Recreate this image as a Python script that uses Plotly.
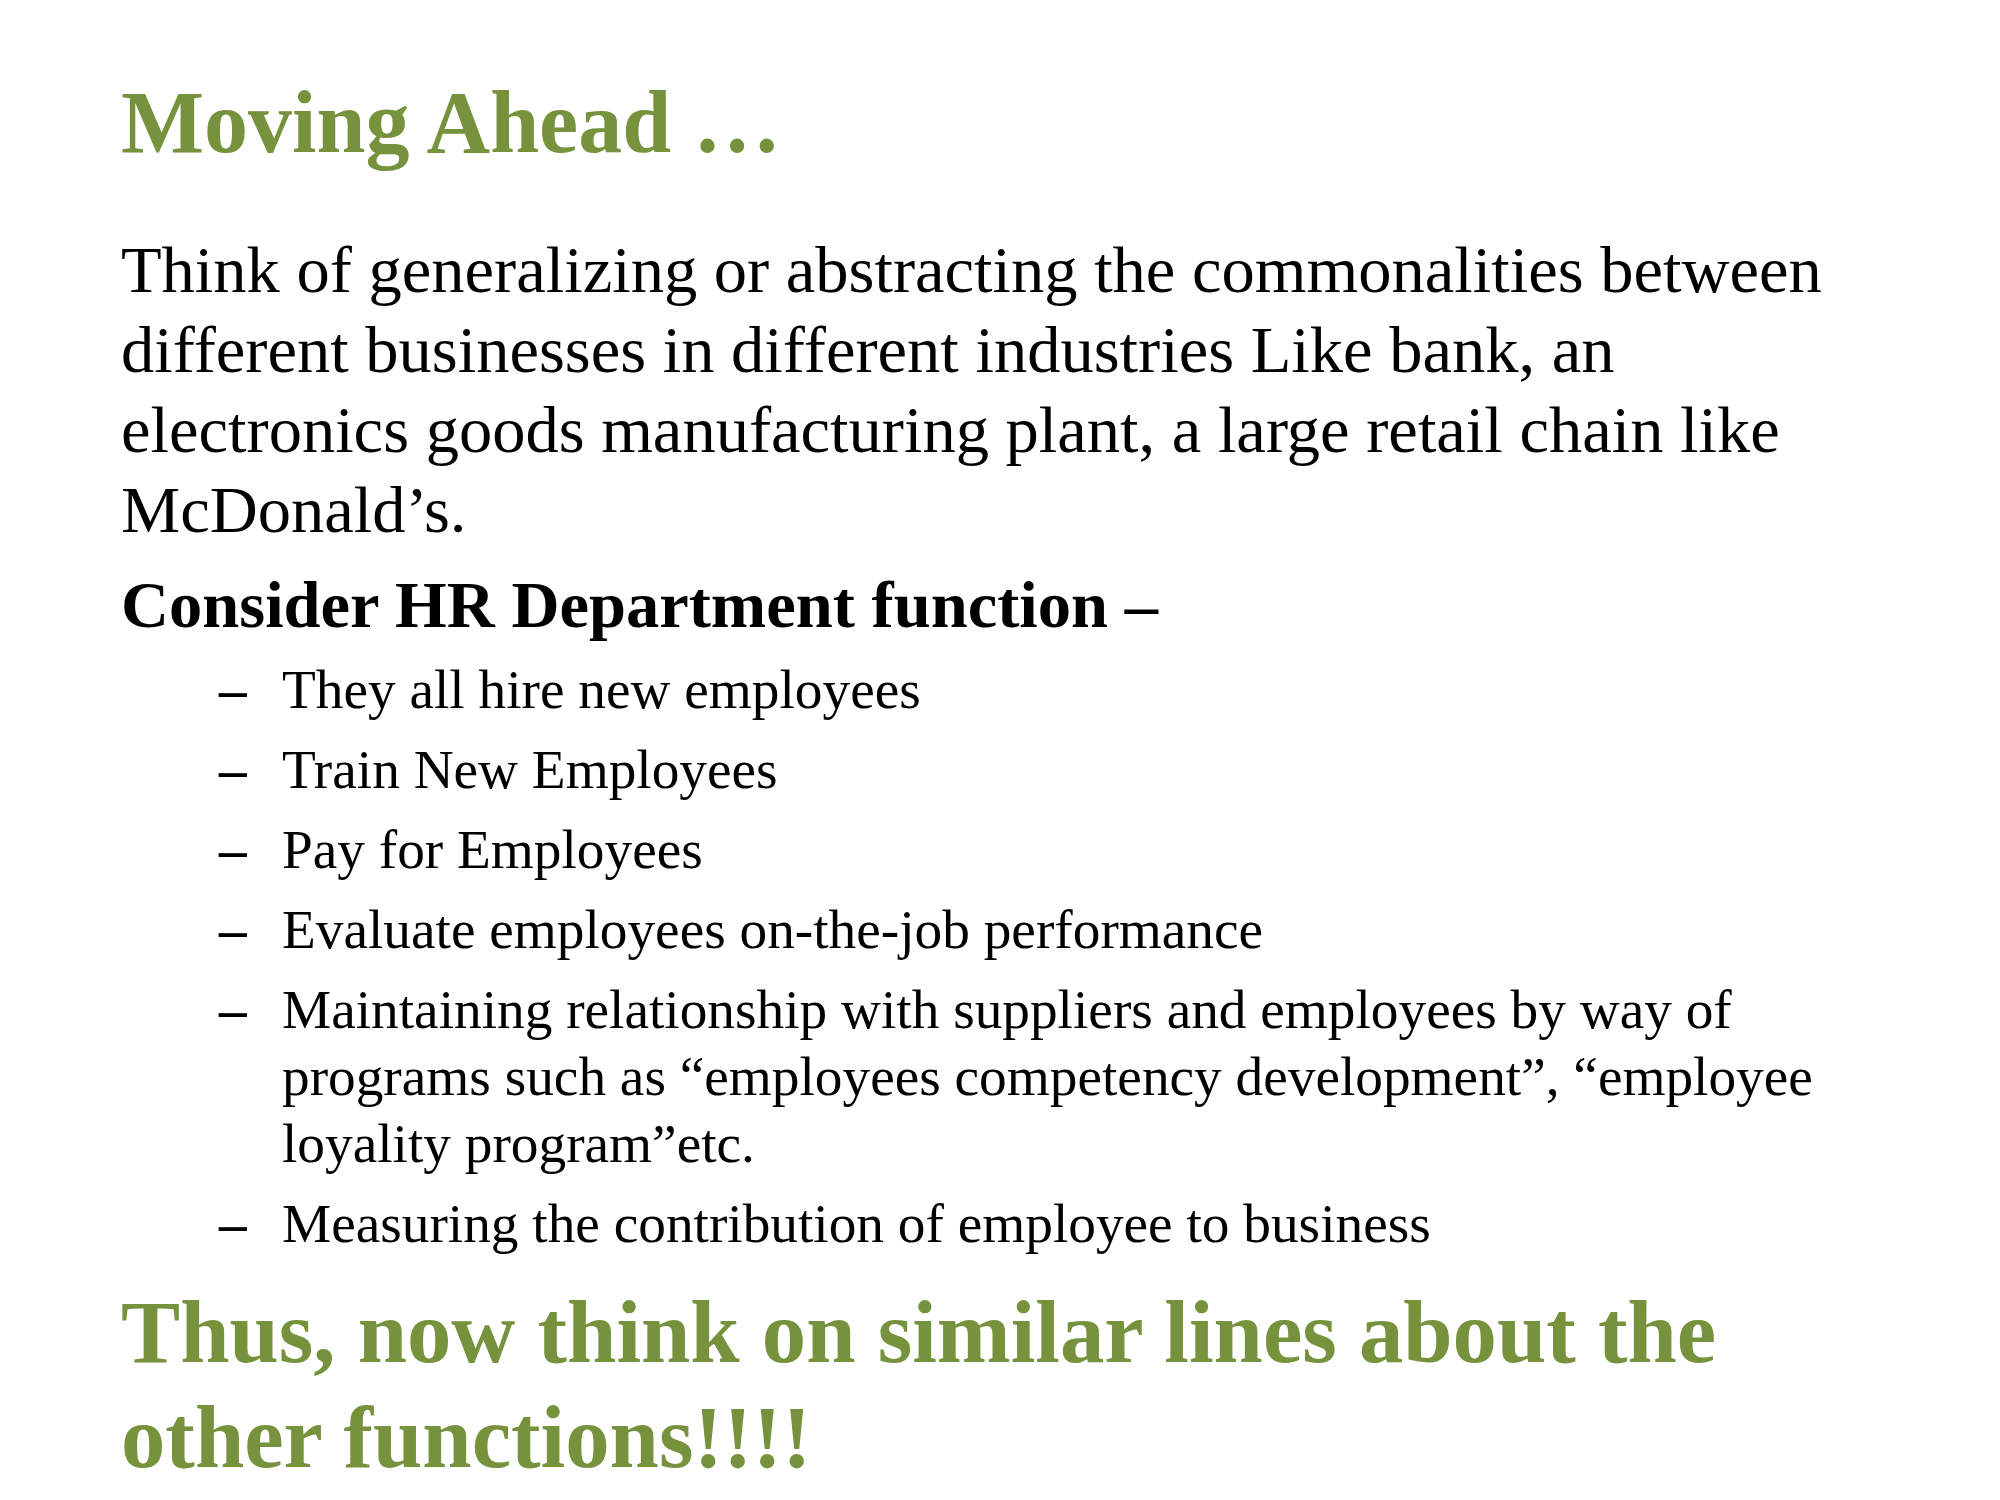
import plotly.graph_objects as go

# slide text, line by line
title = "Moving Ahead …"
intro_lines = [
    "Think of generalizing or abstracting the commonalities between",
    "different businesses in different industries Like bank, an",
    "electronics goods manufacturing plant, a large retail chain like",
    "McDonald’s.",
]
heading = "Consider HR Department function –"
bullets = [
    ["They all hire new employees"],
    ["Train New Employees"],
    ["Pay for Employees"],
    ["Evaluate employees on-the-job performance"],
    [
        "Maintaining relationship with suppliers and employees by way of",
        "programs such as “employees competency development”, “employee",
        "loyality program”etc.",
    ],
    ["Measuring the contribution of employee to business"],
]
closing_lines = [
    "Thus, now think on similar lines about the",
    "other functions!!!!",
]

GREEN = "#76923C"
FONT = "Liberation Serif"

fig = go.Figure()


def add_line(text, x, baseline, size, color="black", bold=False):
    # place the annotation so that its text baseline lands on `baseline`
    if bold:
        text = f"<b>{text}</b>"
    fig.add_annotation(
        x=x - 11, y=baseline - 0.34 * size - 9,
        xref="x", yref="y",
        text=text, showarrow=False,
        xanchor="left", yanchor="middle",
        font=dict(family=FONT, size=size, color=color),
    )


LEFT = 122
add_line(title, LEFT, 153, 88, GREEN, bold=True)

y = 293
for line in intro_lines:
    add_line(line, LEFT, y, 66.5)
    y += 80

add_line(heading, LEFT, 628, 66.5, bold=True)

y = 709
for item in bullets:
    add_line("–", 219, y, 55.3, bold=True)
    for j, line in enumerate(item):
        add_line(line, 283, y, 55.3)
        if j < len(item) - 1:
            y += 67
    y += 80

add_line(closing_lines[0], LEFT, 1363, 88.7, GREEN, bold=True)
add_line(closing_lines[1], LEFT, 1468, 88.7, GREEN, bold=True)

fig.update_xaxes(range=[0, 2000], visible=False)
fig.update_yaxes(range=[1500, 0], visible=False)
fig.update_layout(
    width=2000, height=1500,
    margin=dict(l=0, r=0, t=0, b=0),
    plot_bgcolor="white", paper_bgcolor="white",
    showlegend=False,
)

fig.write_html("out.html")
